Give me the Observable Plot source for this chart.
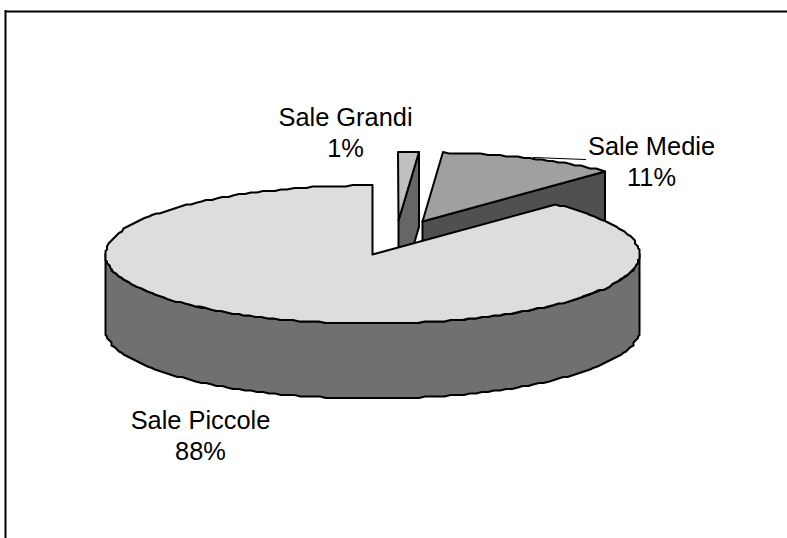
<!DOCTYPE html>
<html>
<head>
<meta charset="utf-8">
<script src="https://cdn.jsdelivr.net/npm/d3@7"></script>
<script src="https://cdn.jsdelivr.net/npm/@observablehq/plot@0.6"></script>
<style>
html,body{margin:0;padding:0;background:#fff}
svg{display:block}
</style>
</head>
<body>
<div id="chart"></div>
<script>
const categories = ["Sale Grandi", "Sale Medie", "Sale Piccole"];
const shareLabels = ["1%", "11%", "88%"];
const shares = [1.2, 10.8, 88];
const topFills = ["#c0c0c0", "#a0a0a0", "#dddddd"];
const sideFills = ["#666666", "#505050", "#707070"];

// Layout of the drawing
const W = 787, H = 538;
const rx = 267, ry = 69, depth = 75;
const apexes = [[398, 220], [422, 221], [372, 254]];
const labelAnchors = [[345, 117], [651, 146], [200, 420]];
const lineGap = 31.5;
const grid = 1.5; // the original outline is snapped to a coarse pixel grid

// Cumulative angles, clockwise from 12 o'clock, read from the shares
const total = d3.sum(shares);
const cum = d3.cumsum(shares);
const start = i => (i === 0 ? 0 : cum[i - 1]) / total * 2 * Math.PI;
const end = i => cum[i] / total * 2 * Math.PI;
const snap = v => Math.round(v / grid) * grid;

const rim = (i, a, dy = 0) => ({
  px: snap(apexes[i][0] + rx * Math.sin(a)),
  py: snap(apexes[i][1] - ry * Math.cos(a)) + dy
});
const arc = (i, a0, a1, dy = 0) => {
  const n = Math.max(2, Math.ceil((a1 - a0) / 0.025));
  return d3.range(n + 1).map(k => rim(i, a0 + (a1 - a0) * k / n, dy));
};
const apex = (i, dy = 0) => ({px: apexes[i][0], py: apexes[i][1] + dy});
const closed = pts => [...pts, pts[0]];

// Top faces
const topFace = i => closed([apex(i), ...arc(i, start(i), end(i))]);
// Visible cut face behind each exploded slice (its trailing edge)
const cutFace = i => closed([apex(i), rim(i, end(i)), rim(i, end(i), depth), apex(i, depth)]);
// Front wall of the big slice: the lower half of the rim
const wall = i => {
  const a0 = Math.PI / 2, a1 = 3 * Math.PI / 2;
  return closed([...arc(i, a0, a1), ...arc(i, a0, a1, depth).reverse()]);
};

const poly = (pts, fill) => Plot.line(pts, {
  x: "px", y: "py", fill, stroke: "#000", strokeWidth: 2,
  strokeLinejoin: "round", curve: "linear"
});

// Leader line of the Sale Medie label
const leader = [{px: 585, py: 159}, {px: 533, py: 157}];

const labelRows = categories.flatMap((c, i) => [
  {px: labelAnchors[i][0], py: labelAnchors[i][1], t: c},
  {px: labelAnchors[i][0], py: labelAnchors[i][1] + lineGap, t: shareLabels[i]}
]);

const plot = Plot.plot({
  width: W, height: H,
  margin: 0,
  x: {domain: [0, W], range: [0, W], axis: null},
  y: {domain: [0, H], range: [0, H], axis: null},
  marks: [
    Plot.ruleY([11], {x1: 5, x2: W, stroke: "#000", strokeWidth: 2}),
    Plot.ruleX([5], {y1: 10, y2: H, stroke: "#000", strokeWidth: 2}),
    poly(cutFace(0), sideFills[0]),
    poly(topFace(0), topFills[0]),
    poly(cutFace(1), sideFills[1]),
    poly(topFace(1), topFills[1]),
    poly(wall(2), sideFills[2]),
    poly(topFace(2), topFills[2]),
    Plot.line(leader, {x: "px", y: "py", stroke: "#000", strokeWidth: 1.2}),
    Plot.text(labelRows, {
      x: "px", y: "py", text: "t", fill: "#000",
      fontFamily: "Liberation Sans, Arial, sans-serif", fontSize: 25.4,
      textAnchor: "middle", lineAnchor: "middle"
    })
  ]
});
document.getElementById("chart").appendChild(plot);
</script>
</body>
</html>
